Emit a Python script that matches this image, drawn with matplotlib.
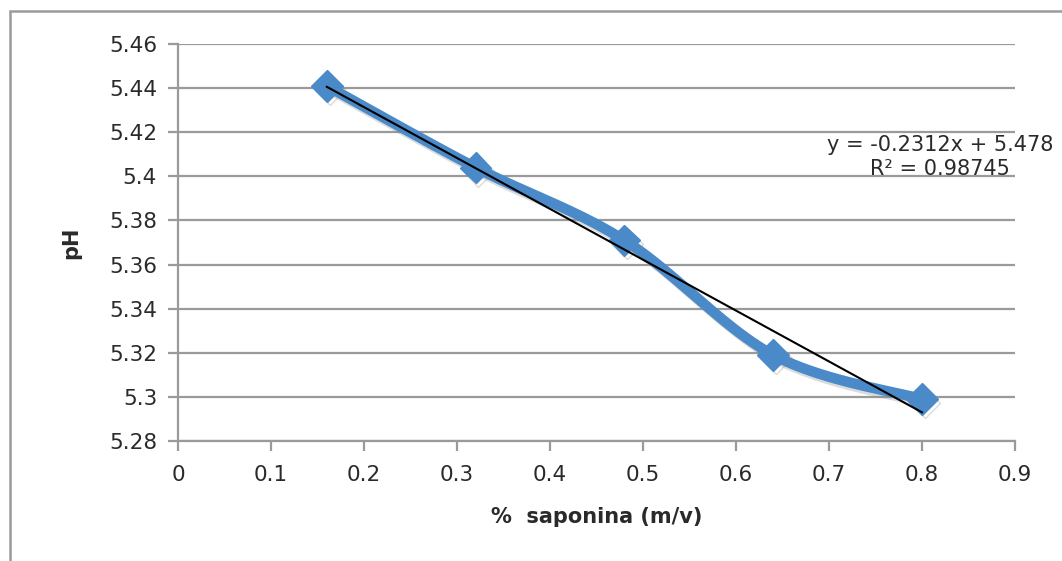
import numpy as np
import matplotlib
matplotlib.use("Agg")
import matplotlib.pyplot as plt
import matplotlib.patheffects as pe
from matplotlib.patches import Rectangle

saponina = [0.16, 0.32, 0.48, 0.64, 0.80]
ph = [5.441, 5.404, 5.371, 5.319, 5.299]
x_ticks = [0, 0.1, 0.2, 0.3, 0.4, 0.5, 0.6, 0.7, 0.8, 0.9]
y_ticks = [5.28, 5.30, 5.32, 5.34, 5.36, 5.38, 5.40, 5.42, 5.44, 5.46]
y_tick_labels = ["5.28", "5.3", "5.32", "5.34", "5.36", "5.38", "5.4", "5.42", "5.44", "5.46"]
trend_text = "y = -0.2312x + 5.478\nR² = 0.98745"


def smooth(x, y, n=40):
    # catmull-rom curve through the points, like excel's smoothed line
    x = np.asarray(x, float)
    y = np.asarray(y, float)
    px = np.concatenate([[x[0]], x, [x[-1]]])
    py = np.concatenate([[y[0]], y, [y[-1]]])
    t = np.linspace(0, 1, n)
    xs, ys = [], []
    for i in range(1, len(px) - 2):
        for p, out in ((px, xs), (py, ys)):
            p0, p1, p2, p3 = p[i - 1], p[i], p[i + 1], p[i + 2]
            out.append(0.5 * (2 * p1 + (-p0 + p2) * t
                              + (2 * p0 - 5 * p1 + 4 * p2 - p3) * t ** 2
                              + (-p0 + 3 * p1 - 3 * p2 + p3) * t ** 3))
    return np.concatenate(xs), np.concatenate(ys)


plt.rcParams["font.family"] = ["DejaVu Sans"]

fig = plt.figure(figsize=(10.62, 5.61), dpi=100)
fig.patches.append(Rectangle((10 / 1062, -0.1), 1.2, 1 - 11 / 561 + 0.1,
                             transform=fig.transFigure, fill=False,
                             edgecolor="#9a9a9a", linewidth=1.8))
ax = fig.add_axes([178 / 1062, 120 / 561, 837 / 1062, 397 / 561])

grid_c = "#9a9a9a"
text_c = "#2a2a2a"
ax.set_xlim(0, 0.9)
ax.set_ylim(5.28, 5.46)
ax.set_xticks(x_ticks)
ax.set_xticklabels([f"{v:g}" for v in x_ticks])
ax.set_yticks(y_ticks)
ax.set_yticklabels(y_tick_labels)
ax.yaxis.grid(True, color=grid_c, linewidth=1.6)
ax.set_axisbelow(True)
for s in ["top", "right"]:
    ax.spines[s].set_visible(False)
for s in ["left", "bottom"]:
    ax.spines[s].set_color(grid_c)
    ax.spines[s].set_linewidth(1.6)
ax.tick_params(axis="both", colors=grid_c, width=1.6, length=7,
               labelcolor=text_c, labelsize=15.5)
ax.tick_params(axis="x", pad=10)
ax.tick_params(axis="y", pad=8)

blue = "#4a8ac9"
sx, sy = smooth(saponina, ph)
shadow = [pe.SimpleLineShadow(offset=(2, -2.5), shadow_color="#888888", alpha=0.3), pe.Normal()]
ax.plot(sx, sy, color=blue, linewidth=7.5, solid_capstyle="round",
        path_effects=shadow, zorder=3)
ax.plot(saponina, ph, linestyle="none", marker="D", markersize=16,
        color=blue, path_effects=shadow, zorder=4)

m, b = np.polyfit(saponina, ph, 1)
tx = np.array([saponina[0], saponina[-1]])
ax.plot(tx, m * tx + b, color="black", linewidth=1.5, zorder=5)

ax.text(940 / 1062, 1 - 157 / 561, trend_text, transform=fig.transFigure,
        ha="center", va="center", fontsize=15, color=text_c, linespacing=1.3)

ax.set_xlabel("%  saponina (m/v)", fontsize=15, fontweight="bold", labelpad=16, color=text_c)
ax.set_ylabel("pH", fontsize=15, fontweight="bold", labelpad=20, color=text_c)

fig.savefig("out.png", dpi=100)
